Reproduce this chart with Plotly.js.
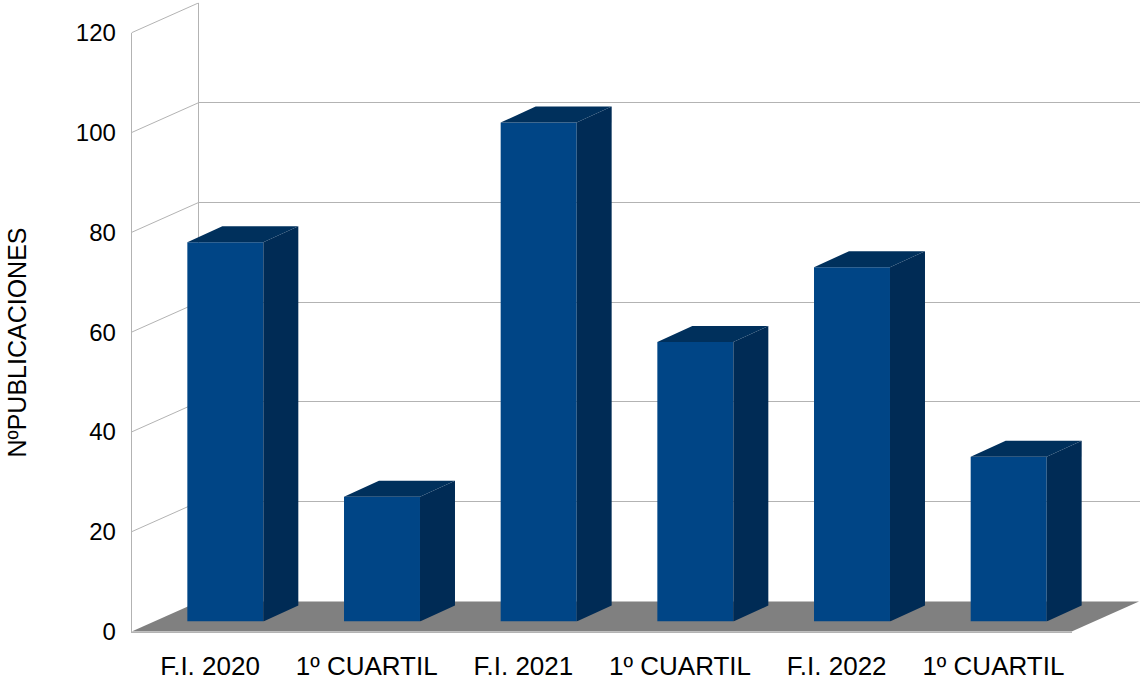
<!DOCTYPE html>
<html>
<head>
<meta charset="utf-8">
<script src="https://cdn.plot.ly/plotly-3.0.1.min.js"></script>
<style>html,body{margin:0;padding:0;background:#fff;}#chart{width:1140px;height:679px;}</style>
</head>
<body>
<div id="chart"></div>
<script>
// ---- data ----
const categories = ['F.I. 2020', '1º CUARTIL', 'F.I. 2021', '1º CUARTIL', 'F.I. 2022', '1º CUARTIL'];
const publicaciones = [76, 25, 100, 56, 71, 33];
const yTicks = [0, 20, 40, 60, 80, 100, 120];
const backGridTicks = [20, 40, 60, 80, 100];
const yTitle = 'NºPUBLICACIONES';

// ---- geometry (pixels) ----
const W = 1140, H = 679;
const YMAX = 120;
const PXU = 4.99;                 // pixels per unit
const frontLeft = 131.7, frontRight = 1071.7, frontBottom = 631.5;
const wallDX = 67.3, wallDY = 30; // perspective offset of back wall
const barShiftX = 15.3, barShiftY = 10;
const barDepthPX = 35, barDepthPY = 16;
const barWidth = 0.485;

const px = v => v / W;
const py = v => 1 - v / H;
const ydom = bottom => [py(bottom), py(bottom - YMAX * PXU)];
const catW = (frontRight - frontLeft) / categories.length;
const idx = categories.map((_, i) => i);

const depthX = barDepthPX / catW;
const depthY = barDepthPY / PXU;

const FRONT = '#004586', SIDE = '#002b55', TOP = '#00305c';

// empty helper traces so the back-wall (x/y) and front-plane (x2/y2) subplots are built
const wallTrace = {type: 'scatter', mode: 'markers', x: [], y: [], xaxis: 'x', yaxis: 'y',
                   hoverinfo: 'skip', showlegend: false};
const frontTrace = {type: 'scatter', mode: 'markers', x: [], y: [], xaxis: 'x2', yaxis: 'y2',
                    hoverinfo: 'skip', showlegend: false};

const barTrace = {
  type: 'bar',
  x: idx,
  y: publicaciones,
  xaxis: 'x3', yaxis: 'y3',
  width: barWidth,
  marker: {color: FRONT, line: {width: 0}},
  hoverinfo: 'skip',
  showlegend: false
};

const shapes = [];
// left wall diagonals (anchored on the back-wall axis)
yTicks.forEach(v => {
  shapes.push({
    type: 'line', layer: 'below',
    xref: 'paper', x0: px(frontLeft + wallDX), x1: px(frontLeft),
    yref: 'y', ysizemode: 'pixel', yanchor: v, y0: 0, y1: -wallDY,
    line: {color: '#b3b3b3', width: 1}
  });
});
// floor
shapes.push({
  type: 'path', layer: 'below', xref: 'paper', yref: 'paper',
  path: `M ${px(frontLeft)} ${py(frontBottom)} L ${px(frontRight)} ${py(frontBottom)} L ${px(frontRight + wallDX)} ${py(frontBottom - wallDY)} L ${px(frontLeft + wallDX)} ${py(frontBottom - wallDY)} Z`,
  fillcolor: '#808080', line: {width: 0}
});
// 3D faces of bars
publicaciones.forEach((v, i) => {
  const l = i - barWidth / 2, r = i + barWidth / 2;
  shapes.push({
    type: 'path', xref: 'x3', yref: 'y3', layer: 'above',
    path: `M ${r} 0 L ${r + depthX} ${depthY} L ${r + depthX} ${v + depthY} L ${r} ${v} Z`,
    fillcolor: SIDE, line: {width: 0}
  });
  shapes.push({
    type: 'path', xref: 'x3', yref: 'y3', layer: 'above',
    path: `M ${l} ${v} L ${l + depthX} ${v + depthY} L ${r + depthX} ${v + depthY} L ${r} ${v} Z`,
    fillcolor: TOP, line: {width: 0}
  });
});

const FONT = 'Liberation Sans, Arial, sans-serif';
const layout = {
  width: W, height: H,
  margin: {l: 0, r: 0, t: 0, b: 0, pad: 0},
  paper_bgcolor: '#ffffff', plot_bgcolor: 'rgba(0,0,0,0)',
  font: {family: FONT, color: '#000000'},
  showlegend: false,
  // back wall
  xaxis: {domain: [px(frontLeft + wallDX), 1], range: [0, 1], anchor: 'y',
          showgrid: false, zeroline: false, showline: false, showticklabels: false, ticks: '', fixedrange: true},
  yaxis: {domain: ydom(frontBottom - wallDY), range: [0, YMAX], anchor: 'x',
          tickmode: 'array', tickvals: backGridTicks, showgrid: true, gridcolor: '#b3b3b3', gridwidth: 1,
          showticklabels: false, ticks: '', zeroline: false, showline: true, linecolor: '#b3b3b3', linewidth: 1, fixedrange: true},
  // front plane (labels)
  xaxis2: {domain: [px(frontLeft), px(frontRight)], range: [-0.5, categories.length - 0.5], anchor: 'y2',
           tickmode: 'array', tickvals: idx, ticktext: categories, ticks: '', showgrid: false, zeroline: false,
           showline: true, linecolor: '#b3b3b3', linewidth: 1, tickfont: {size: 26, family: FONT, color: '#000'},
           ticklabelstandoff: 11, fixedrange: true},
  yaxis2: {domain: ydom(frontBottom), range: [0, YMAX], anchor: 'x2',
           tickmode: 'array', tickvals: yTicks, ticks: '', showgrid: false, zeroline: false,
           showline: true, linecolor: '#b3b3b3', linewidth: 1, tickfont: {size: 24, family: FONT, color: '#000'},
           ticklabelstandoff: 10, fixedrange: true},
  // bar plane
  xaxis3: {domain: [px(frontLeft + barShiftX), px(frontRight + barShiftX)], range: [-0.5, categories.length - 0.5],
           anchor: 'y3', visible: false, fixedrange: true},
  yaxis3: {domain: ydom(frontBottom - barShiftY), range: [0, YMAX], anchor: 'x3', visible: false, fixedrange: true},
  shapes: shapes,
  annotations: [{
    text: yTitle, xref: 'paper', yref: 'paper', x: px(16), y: py(342.5),
    xanchor: 'center', yanchor: 'middle', textangle: -90, showarrow: false,
    font: {size: 25, family: FONT, color: '#000'}
  }]
};

Plotly.newPlot('chart', [wallTrace, frontTrace, barTrace], layout, {displayModeBar: false, staticPlot: true});
</script>
</body>
</html>
